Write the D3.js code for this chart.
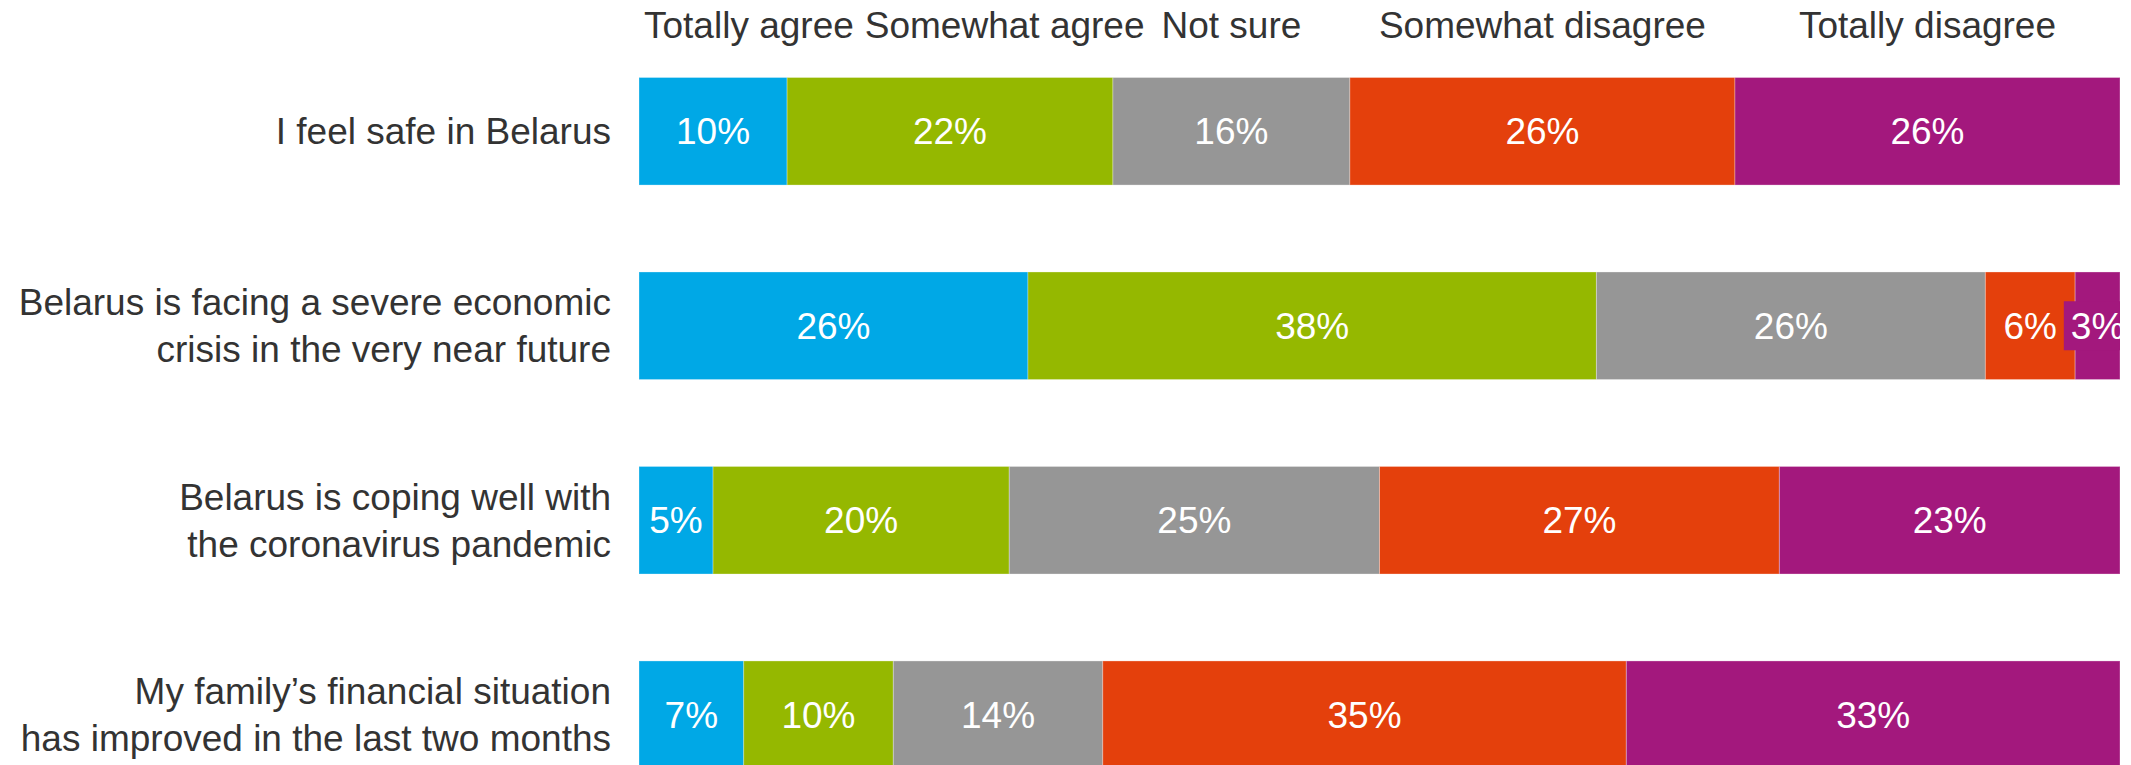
<!DOCTYPE html>
<html>
<head>
<meta charset="utf-8">
<script src="https://cdn.jsdelivr.net/npm/d3@7"></script>
<style>
  html, body { margin: 0; padding: 0; background: #fff; }
  svg { display: block; }
</style>
</head>
<body>
<svg id="chart"></svg>
<script>
// Survey statements (each entry is the list of lines the label is broken into)
const statements = [
  ["I feel safe in Belarus"],
  ["Belarus is facing a severe economic", "crisis in the very near future"],
  ["Belarus is coping well with", "the coronavirus pandemic"],
  ["My family\u2019s financial situation", "has improved in the last two months"]
];

// Answer options, left to right
const responses = ["Totally agree", "Somewhat agree", "Not sure", "Somewhat disagree", "Totally disagree"];

// Share of respondents (%) per statement, one array per answer
const totallyAgree     = [10, 26,  5,  7];
const somewhatAgree    = [22, 38, 20, 10];
const notSure          = [16, 26, 25, 14];
const somewhatDisagree = [26,  6, 27, 35];
const totallyDisagree  = [26,  3, 23, 33];

const responseColors = ["#00a8e6", "#95b800", "#969696", "#e4400c", "#a3187d"];

const W = 2131, H = 765;
const FONT = "'Liberation Sans', Arial, Helvetica, sans-serif";

const svg = d3.select("#chart").attr("width", W).attr("height", H)
  .style("font-family", FONT);

// Build a table row per statement
const series = [totallyAgree, somewhatAgree, notSure, somewhatDisagree, totallyDisagree];
const rows = statements.map((lines, i) => {
  const row = { key: i, lines };
  responses.forEach((r, j) => { row[r] = series[j][i]; });
  return row;
});

// 100% stacked layout
const stacked = d3.stack()
  .keys(responses)
  .offset(d3.stackOffsetExpand)(rows);

const x = d3.scaleLinear().domain([0, 1]).range([639, 2120]);
const y = d3.scaleBand()
  .domain(rows.map(d => d.key))
  .range([77.5, 768.5])
  .paddingInner(0.447)
  .paddingOuter(0);

const color = d3.scaleOrdinal().domain(responses).range(responseColors);

// Segments
const layers = svg.append("g").attr("class", "bars")
  .selectAll("g")
  .data(stacked)
  .join("g")
  .attr("fill", d => color(d.key));

layers.selectAll("rect")
  .data(d => d.map(s => ({ s, key: d.key })))
  .join("rect")
  .attr("x", d => x(d.s[0]))
  .attr("y", d => y(d.s.data.key))
  .attr("width", d => x(d.s[1]) - x(d.s[0]))
  .attr("height", y.bandwidth())
  .attr("stroke", "#fff")
  .attr("stroke-opacity", 0.3)
  .attr("stroke-width", 1);

// Value labels
const labelSize = 37;
const labelGroup = svg.append("g").attr("class", "values");
stacked.forEach(layer => {
  layer.forEach(s => {
    const x0 = x(s[0]), x1 = x(s[1]);
    const cx = (x0 + x1) / 2;
    const cy = y(s.data.key) + y.bandwidth() / 2;
    const g = labelGroup.append("g");
    const t = g.append("text")
      .attr("x", cx)
      .attr("y", cy)
      .attr("dy", "0.355em")
      .attr("text-anchor", "middle")
      .attr("fill", "#fff")
      .attr("font-size", labelSize)
      .text(s.data[layer.key] + "%");
    const w = t.node().getComputedTextLength();
    if (w + 4 > x1 - x0) {
      // label wider than its segment: give it a backing box in the segment colour
      const left = cx - w / 2 - 7;
      const right = Math.min(cx + w / 2 + 7, x.range()[1]);
      g.insert("rect", "text")
        .attr("x", left)
        .attr("y", cy - 24.5)
        .attr("width", right - left)
        .attr("height", 49)
        .attr("fill", color(layer.key));
    }
  });
});

// Statement labels
const lineH = 47;
const cats = svg.append("g").attr("class", "categories");
rows.forEach(r => {
  const cy = y(r.key) + y.bandwidth() / 2;
  const n = r.lines.length;
  const t = cats.append("text")
    .attr("text-anchor", "end")
    .attr("fill", "#333")
    .attr("font-size", 37);
  r.lines.forEach((line, i) => {
    t.append("tspan")
      .attr("x", 611)
      .attr("y", cy + (i - (n - 1) / 2) * lineH)
      .attr("dy", "0.355em")
      .text(line);
  });
});

// Answer headers above the first bar, centred on its segments and nudged apart
const head = svg.append("g").attr("class", "headers");
let prevRight = -Infinity;
stacked.forEach(layer => {
  const s = layer[0];
  const cx = (x(s[0]) + x(s[1])) / 2;
  const t = head.append("text")
    .attr("y", 38)
    .attr("fill", "#333")
    .attr("font-size", 37)
    .attr("text-anchor", "start")
    .text(layer.key);
  const w = t.node().getComputedTextLength();
  let left = Math.max(cx - w / 2, prevRight + 11, x.range()[0] + 5);
  t.attr("x", left);
  prevRight = left + w;
});
</script>
</body>
</html>
